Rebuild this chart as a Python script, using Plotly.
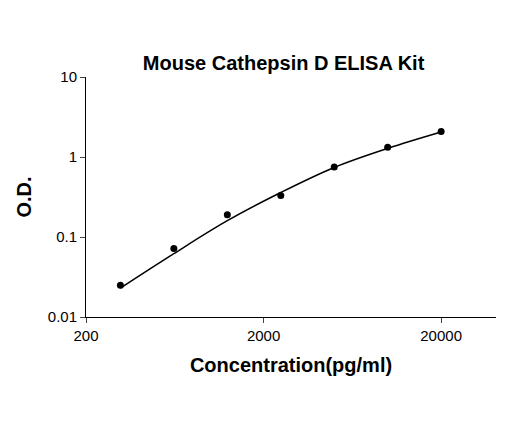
import plotly.graph_objects as go

conc = [312.5, 625, 1250, 2500, 5000, 10000, 20000]
od = [0.025, 0.072, 0.19, 0.33, 0.75, 1.32, 2.08]
curve_od = [0.023, 0.062, 0.16, 0.36, 0.74, 1.28, 2.05]

fig = go.Figure()
fig.add_trace(go.Scatter(x=conc, y=curve_od, mode="lines", line=dict(color="black", width=1.5, shape="spline")))
fig.add_trace(go.Scatter(x=conc, y=od, mode="markers", marker=dict(color="black", size=7)))

font = "Liberation Sans, Arial"
fig.update_layout(
    width=520, height=421, showlegend=False,
    plot_bgcolor="white", paper_bgcolor="white",
    margin=dict(l=78, r=32, t=69, b=112),
    title=dict(text="<b>Mouse Cathepsin D ELISA Kit</b>", x=0.53, xanchor="center", y=0.885,
               font=dict(family=font, size=20, color="black")),
)
fig.update_xaxes(type="log", range=[2.301, 4.61], tickvals=[200, 2000, 20000],
                 ticktext=["200", "2000", "20000"], showline=True, linecolor="black",
                 ticks="outside", ticklen=5, showgrid=False, zeroline=False,
                 tickfont=dict(family=font, size=15, color="black"),
                 title=dict(text="<b>Concentration(pg/ml)</b>", font=dict(family=font, size=20, color="black"), standoff=14))
fig.update_yaxes(type="log", range=[-2, 1], tickvals=[0.01, 0.1, 1, 10],
                 ticktext=["0.01", "0.1", "1", "10"], showline=True, linecolor="black",
                 ticks="outside", ticklen=5, showgrid=False, zeroline=False,
                 tickfont=dict(family=font, size=15, color="black"),
                 title=dict(text="<b>O.D.</b>", font=dict(family=font, size=20, color="black"), standoff=10))
fig.write_html("out.html")
